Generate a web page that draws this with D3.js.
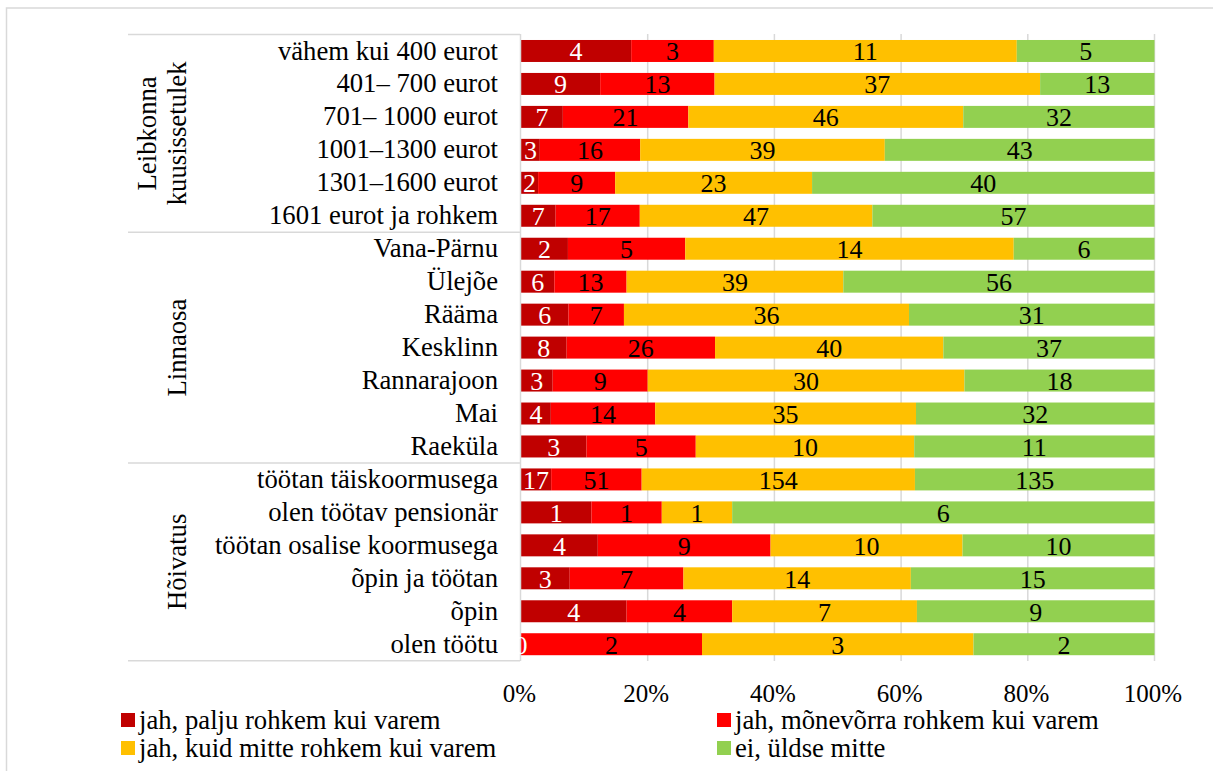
<!DOCTYPE html>
<html><head><meta charset="utf-8">
<script src="https://cdn.jsdelivr.net/npm/d3@7"></script>
<style>
html,body{margin:0;padding:0;background:#fff;}
svg{display:block;}
</style></head>
<body>
<svg id="c" width="1213" height="771" font-family="'Liberation Serif', 'DejaVu Serif', serif"></svg>
<script>
const categories = [
  "vähem kui 400 eurot","401– 700 eurot","701– 1000 eurot","1001–1300 eurot","1301–1600 eurot","1601 eurot ja rohkem",
  "Vana-Pärnu","Ülejõe","Rääma","Kesklinn","Rannarajoon","Mai","Raeküla",
  "töötan täiskoormusega","olen töötav pensionär","töötan osalise koormusega","õpin ja töötan","õpin","olen töötu"
];
const seriesNames = ["jah, palju rohkem kui varem","jah, mõnevõrra rohkem kui varem","jah, kuid mitte rohkem kui varem","ei, üldse mitte"];
const paljuRohkem   = [4,9,7,3,2,7, 2,6,6,8,3,4,3, 17,1,4,3,4,0];
const monevorra     = [3,13,21,16,9,17, 5,13,7,26,9,14,5, 51,1,9,7,4,2];
const mitteRohkem   = [11,37,46,39,23,47, 14,39,36,40,30,35,10, 154,1,10,14,7,3];
const uldseMitte    = [5,13,32,43,40,57, 6,56,31,37,18,32,11, 135,6,10,15,9,2];
const groups = [
  {lines:["Leibkonna","kuusissetulek"], start:0, end:5},
  {lines:["Linnaosa"], start:6, end:12},
  {lines:["Hõivatus"], start:13, end:18}
];
const tickValues = [0,0.2,0.4,0.6,0.8,1];
const colors = ["#C00000","#FF0000","#FFC000","#92D050"];
const labelColors = ["#ffffff","#000000","#000000","#000000"];

const FONT = "'Liberation Serif', 'DejaVu Serif', serif";
const svg = d3.select("#c");
const FS = 26.7;
const FSV = 26;
svg.append("rect").attr("x",6.5).attr("y",8).attr("width",1240).attr("height",800)
  .attr("fill","none").attr("stroke","#d9d9d9").attr("stroke-width",1.5);

const x = d3.scaleLinear().domain([0,1]).range([521,1154.5]);
const y = d3.scaleBand().domain(categories).range([34.5,660.7]).paddingInner(0.333).paddingOuter(0.1665);

const seriesArr = [paljuRohkem,monevorra,mitteRohkem,uldseMitte];
const rows = categories.map((c,i)=>{
  const vals = seriesArr.map(s=>s[i]);
  const tot = d3.sum(vals);
  let acc=0;
  return vals.map((v,k)=>{const s={cat:c,k,v,x0:acc/tot,x1:(acc+v)/tot};acc+=v;return s;});
});

const g = svg.append("g");
g.selectAll("line.grid").data(tickValues.slice(1)).enter().append("line")
  .attr("x1",d=>x(d)).attr("x2",d=>x(d)).attr("y1",34).attr("y2",661)
  .attr("stroke","#d9d9d9").attr("stroke-width",1.5);

const segs = rows.flat();
g.selectAll("rect.bar").data(segs).enter().append("rect")
  .attr("x",d=>x(d.x0)).attr("width",d=>x(d.x1)-x(d.x0))
  .attr("y",d=>y(d.cat)).attr("height",y.bandwidth())
  .attr("fill",d=>colors[d.k]);

g.append("line").attr("x1",520.5).attr("x2",520.5).attr("y1",34).attr("y2",661)
  .attr("stroke","#d9d9d9").attr("stroke-width",1.5);

g.selectAll("text.val").data(segs).enter().append("text")
  .attr("x",d=>(x(d.x0)+x(d.x1))/2).attr("y",d=>y(d.cat)+y.bandwidth()/2)
  .attr("dy","0.36em").attr("text-anchor","middle").attr("font-size",FSV)
  .attr("font-family",FONT)
  .attr("fill",d=>labelColors[d.k]).text(d=>d.v);

g.selectAll("text.cat").data(categories).enter().append("text")
  .attr("x",498).attr("y",d=>y(d)+y.bandwidth()/2).attr("dy","0.32em")
  .attr("text-anchor","end").attr("font-size",FS).attr("font-family",FONT)
  .attr("fill","#000").text(d=>d);

const sepYs = [34.5].concat(groups.map(gr=>y(categories[gr.end]) + y.bandwidth() + y.step()*y.paddingInner()/2));
g.selectAll("line.sep").data(sepYs).enter().append("line")
  .attr("x1",128).attr("x2",520).attr("y1",d=>d).attr("y2",d=>d)
  .attr("stroke","#d9d9d9").attr("stroke-width",1.5);

groups.forEach(gr=>{
  const top = y(categories[gr.start]);
  const bot = y(categories[gr.end])+y.bandwidth();
  const cy = (top+bot)/2;
  const n = gr.lines.length;
  gr.lines.forEach((ln,i)=>{
    const bx = 186 - (n-1-i)*30;
    svg.append("text").attr("transform",`translate(${bx},${cy}) rotate(-90)`)
      .attr("text-anchor","middle").attr("font-size",FS).attr("font-family",FONT)
      .attr("fill","#000").text(ln);
  });
});

const axis = d3.axisBottom(x).tickValues(tickValues).tickFormat(d3.format(".0%")).tickSize(0).tickPadding(0);
const ax = svg.append("g").attr("transform","translate(-2,684)").call(axis);
ax.attr("font-family",FONT).attr("font-size",25);
ax.select(".domain").remove();
ax.selectAll("text").attr("font-size",25).attr("fill","#000").attr("font-family",FONT);

const legPos = [[121,720],[717,720],[121,748],[717,748]];
const leg = svg.append("g");
seriesNames.forEach((nm,k)=>{
  const [lx,ly]=legPos[k];
  leg.append("rect").attr("x",lx).attr("y",ly-7).attr("width",14).attr("height",14).attr("fill",colors[k]);
  leg.append("text").attr("x",lx+18).attr("y",ly).attr("dy","0.32em").attr("font-size",FS)
    .attr("font-family",FONT).attr("fill","#000").text(nm);
});
</script>
</body></html>
